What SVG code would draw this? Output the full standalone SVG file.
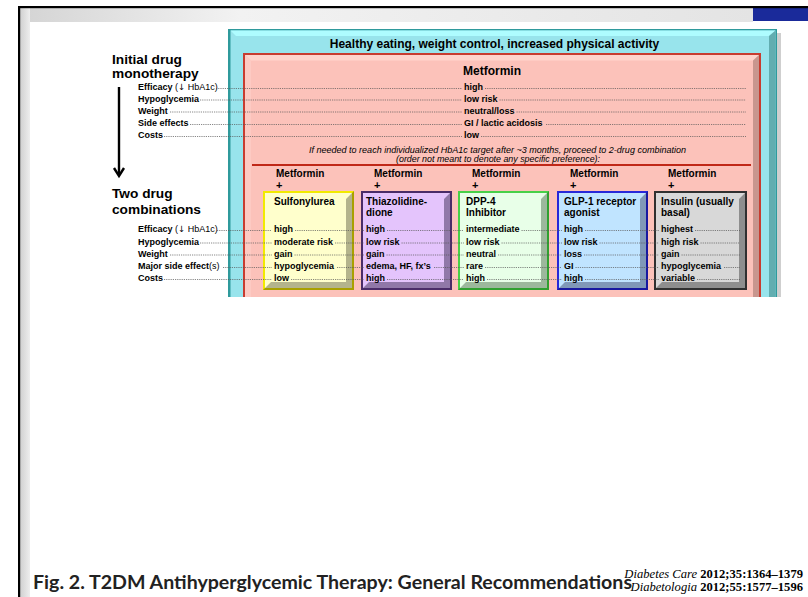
<svg xmlns="http://www.w3.org/2000/svg" width="808" height="597" viewBox="0 0 808 597">
<defs>
<linearGradient id="gTop" x1="0" y1="0" x2="1" y2="0">
<stop offset="0" stop-color="#d4d4d4"/><stop offset="0.3" stop-color="#f2f2f2"/><stop offset="1" stop-color="#e4e4e4"/>
</linearGradient>
<linearGradient id="gLeft" x1="0" y1="0" x2="1" y2="0">
<stop offset="0" stop-color="#d0d0d0"/><stop offset="1" stop-color="#eeeeee"/>
</linearGradient>
</defs>
<style>
text{font-family:"Liberation Sans",Arial,sans-serif;fill:#000}
.b{font-weight:bold}
.hd{font-size:12px;font-weight:bold}
.lb{font-size:13.7px;font-weight:bold}
.sl{font-size:9px;font-weight:bold}
.rg{font-weight:normal}
.v{font-size:9px;font-weight:bold}
.bt{font-size:10px;font-weight:bold}
.mf{font-size:10px;font-weight:bold}
.pl{font-size:11px;font-weight:bold}
.it{font-size:8.4px;font-style:italic}
.dot{fill:none;stroke:#555;stroke-width:0.7;stroke-dasharray:1.2 1}
.cap{font-family:Lato,"Open Sans",sans-serif;font-size:18px;font-weight:bold;fill:#222}
.cit{font-family:"Liberation Serif","Times New Roman",serif;font-size:12.6px}
</style>
<rect width="808" height="597" fill="#fff"/>
<g id="frame">
<rect x="20" y="8" width="733" height="14" fill="url(#gTop)"/>
<rect x="20" y="8" width="10" height="589" fill="url(#gLeft)"/>
<rect x="753" y="8" width="55" height="13" fill="#1a2a9a"/>
<rect x="18" y="6" width="790" height="2.2" fill="#000"/>
<rect x="18" y="6" width="2.2" height="591" fill="#000"/>
</g>
<g id="panel-lifestyle">
<rect x="777" y="33" width="4" height="264" fill="#cfcfcf"/>
<rect x="228" y="29" width="549" height="268" fill="#2f9a9c"/>
<rect x="230.5" y="30.5" width="545" height="266.5" fill="#98e4ec"/>
<polygon points="230.5,30.5 775.5,30.5 769,36 236,36" fill="#aefcff"/>
<polygon points="775.5,30.5 769,36 769,297 775.5,297" fill="#62adb0"/>
<text class="hd" x="494.5" y="48">
<tspan text-anchor="middle">Healthy eating, weight control, increased physical activity</tspan></text>
</g>
<g id="panel-metformin">
<rect x="243" y="53" width="518" height="244" fill="#c83c30"/>
<rect x="245" y="55" width="514" height="242" fill="#fcc2ba"/>
<polygon points="245,55 759,55 753,60.5 251,60.5" fill="#ffd4cc"/>
<polygon points="245,55 251,60.5 251,297 245,297" fill="#fdcac3"/>
<polygon points="759,55 753,60.5 753,297 759,297" fill="#c8968e"/>
<text class="hd" x="492" y="75" text-anchor="middle">Metformin</text>
<text class="v" x="464" y="90">high</text>
<text class="v" x="464" y="101.5">low risk</text>
<text class="v" x="464" y="113.5">neutral/loss</text>
<text class="v" x="464" y="126">GI / lactic acidosis</text>
<text class="v" x="464" y="138">low</text>
<text class="it" x="497.5" y="152.5" text-anchor="middle" textLength="377" lengthAdjust="spacingAndGlyphs">If needed to reach individualized HbA1c target after ~3 months, proceed to 2-drug combination</text>
<text class="it" x="498" y="161.5" text-anchor="middle" textLength="204" lengthAdjust="spacingAndGlyphs">(order not meant to denote any specific preference):</text>
<line x1="252" y1="165" x2="751" y2="165" stroke="#c02818" stroke-width="2"/>
<text class="mf" x="276" y="176.5">Metformin</text><text class="pl" x="276" y="188.5">+</text>
<text class="mf" x="374" y="176.5">Metformin</text><text class="pl" x="374" y="188.5">+</text>
<text class="mf" x="472" y="176.5">Metformin</text><text class="pl" x="472" y="188.5">+</text>
<text class="mf" x="570" y="176.5">Metformin</text><text class="pl" x="570" y="188.5">+</text>
<text class="mf" x="668" y="176.5">Metformin</text><text class="pl" x="668" y="188.5">+</text>
</g>
<g id="labels-left">
<text class="lb" x="112" y="64">Initial drug</text>
<text class="lb" x="112" y="77.5">monotherapy</text>
<text class="sl" x="138" y="90">Efficacy <tspan class="rg">(<tspan font-family="DejaVu Sans" font-size="8.5px">↓</tspan> HbA1c)</tspan></text>
<text class="sl" x="138" y="101.5">Hypoglycemia</text>
<text class="sl" x="138" y="113.5">Weight</text>
<text class="sl" x="138" y="126">Side effects</text>
<text class="sl" x="138" y="138">Costs</text>
<line x1="119" y1="87" x2="119" y2="175" stroke="#000" stroke-width="2.4"/>
<polyline points="114,168 119,176 124,168" fill="none" stroke="#000" stroke-width="2.4"/>
<text class="lb" x="112" y="198">Two drug</text>
<text class="lb" x="112" y="214">combinations</text>
<text class="sl" x="138" y="232">Efficacy <tspan class="rg">(<tspan font-family="DejaVu Sans" font-size="8.5px">↓</tspan> HbA1c)</tspan></text>
<text class="sl" x="138" y="244.5">Hypoglycemia</text>
<text class="sl" x="138" y="256.5">Weight</text>
<text class="sl" x="138" y="269">Major side effect<tspan class="rg">(s)</tspan></text>
<text class="sl" x="138" y="281">Costs</text>
</g>
<g id="box-sulfonylurea">
<rect x="263" y="191" width="91" height="99" fill="#a8a000"/>
<polygon points="263,191 354,191 352,193 265,193 265,288 263,290" fill="#f2ea00"/>
<rect x="265" y="193" width="87" height="95" fill="#ffffcc"/>
<polygon points="265,288 271,282 346,282 346,199 352,193 352,288" fill="#b4b48c"/>
<text class="bt" x="274" y="204.5">Sulfonylurea</text>
<text class="v" x="274" y="232">high</text>
<text class="v" x="274" y="244.5">moderate risk</text>
<text class="v" x="274" y="256.5">gain</text>
<text class="v" x="274" y="269">hypoglycemia</text>
<text class="v" x="274" y="281">low</text>
</g>
<g id="box-tzd">
<rect x="361" y="191" width="91" height="99" fill="#4a2c68"/>
<rect x="363" y="193" width="87" height="95" fill="#e4c4fc"/>
<polygon points="363,288 369,282 444,282 444,199 450,193 450,288" fill="#9078a8"/>
<text class="bt" x="366" y="204.5">Thiazolidine-</text>
<text class="bt" x="366" y="216">dione</text>
<text class="v" x="366" y="232">high</text>
<text class="v" x="366" y="244.5">low risk</text>
<text class="v" x="366" y="256.5">gain</text>
<text class="v" x="366" y="269">edema, HF, fx’s</text>
<text class="v" x="366" y="281">high</text>
</g>
<g id="box-dpp4">
<rect x="458" y="191" width="91" height="99" fill="#30a030"/>
<polygon points="458,191 549,191 547,193 460,193 460,288 458,290" fill="#48d048"/>
<rect x="460" y="193" width="87" height="95" fill="#e8ffe8"/>
<polygon points="460,288 466,282 541,282 541,199 547,193 547,288" fill="#9cb89c"/>
<text class="bt" x="466" y="204.5">DPP-4</text>
<text class="bt" x="466" y="216">Inhibitor</text>
<text class="v" x="466" y="232">intermediate</text>
<text class="v" x="466" y="244.5">low risk</text>
<text class="v" x="466" y="256.5">neutral</text>
<text class="v" x="466" y="269">rare</text>
<text class="v" x="466" y="281">high</text>
</g>
<g id="box-glp1">
<rect x="557" y="191" width="91" height="99" fill="#1818a0"/>
<polygon points="557,191 648,191 646,193 559,193 559,288 557,290" fill="#2828d8"/>
<rect x="559" y="193" width="87" height="95" fill="#c0e4ff"/>
<polygon points="559,288 565,282 640,282 640,199 646,193 646,288" fill="#8098b8"/>
<text class="bt" x="564" y="204.5">GLP-1 receptor</text>
<text class="bt" x="564" y="216">agonist</text>
<text class="v" x="564" y="232">high</text>
<text class="v" x="564" y="244.5">low risk</text>
<text class="v" x="564" y="256.5">loss</text>
<text class="v" x="564" y="269">GI</text>
<text class="v" x="564" y="281">high</text>
</g>
<g id="box-insulin">
<rect x="654" y="191" width="93" height="99" fill="#303030"/>
<rect x="656" y="193" width="89" height="95" fill="#d8d8d8"/>
<polygon points="656,288 662,282 739,282 739,199 745,193 745,288" fill="#8e8e8e"/>
<text class="bt" x="661" y="204.5">Insulin (usually</text>
<text class="bt" x="661" y="216">basal)</text>
<text class="v" x="661" y="232">highest</text>
<text class="v" x="661" y="244.5">high risk</text>
<text class="v" x="661" y="256.5">gain</text>
<text class="v" x="661" y="269">hypoglycemia</text>
<text class="v" x="661" y="281">variable</text>
</g>
<g id="connectors">
<path class="dot" d="M216 88.5H462M485 88.5H746"/>
<path class="dot" d="M200 100H462M499.5 100H746"/>
<path class="dot" d="M170 112H462M516.5 112H746"/>
<path class="dot" d="M190 124.5H462M546 124.5H746"/>
<path class="dot" d="M164 136.5H462M481 136.5H746"/>
<path class="dot" d="M217 230.5H272M295 230.5H364M387 230.5H464M521.5 230.5H562M585 230.5H659M695 230.5H740"/>
<path class="dot" d="M200 243H272M335 243H364M401.5 243H464M501.5 243H562M599.5 243H659M700.5 243H740"/>
<path class="dot" d="M170 255H272M294.5 255H364M386.5 255H464M498 255H562M584 255H659M681.5 255H740"/>
<path class="dot" d="M223 267.5H272M337 267.5H364M434 267.5H464M485 267.5H562M575.5 267.5H659M724 267.5H740"/>
<path class="dot" d="M164 279.5H272M291 279.5H364M387 279.5H464M487 279.5H562M585 279.5H659M697 279.5H740"/>
</g>
<g id="caption">
<text class="cap" x="33" y="589" textLength="599" lengthAdjust="spacingAndGlyphs">Fig. 2. T2DM Antihyperglycemic Therapy: General Recommendations</text>
<text class="cit" x="803" y="578" text-anchor="end"><tspan font-style="italic">Diabetes Care</tspan> <tspan font-weight="bold">2012;35:1364–1379</tspan></text>
<text class="cit" x="803" y="591" text-anchor="end"><tspan font-style="italic">Diabetologia</tspan> <tspan font-weight="bold">2012;55:1577–1596</tspan></text>
</g>
</svg>
